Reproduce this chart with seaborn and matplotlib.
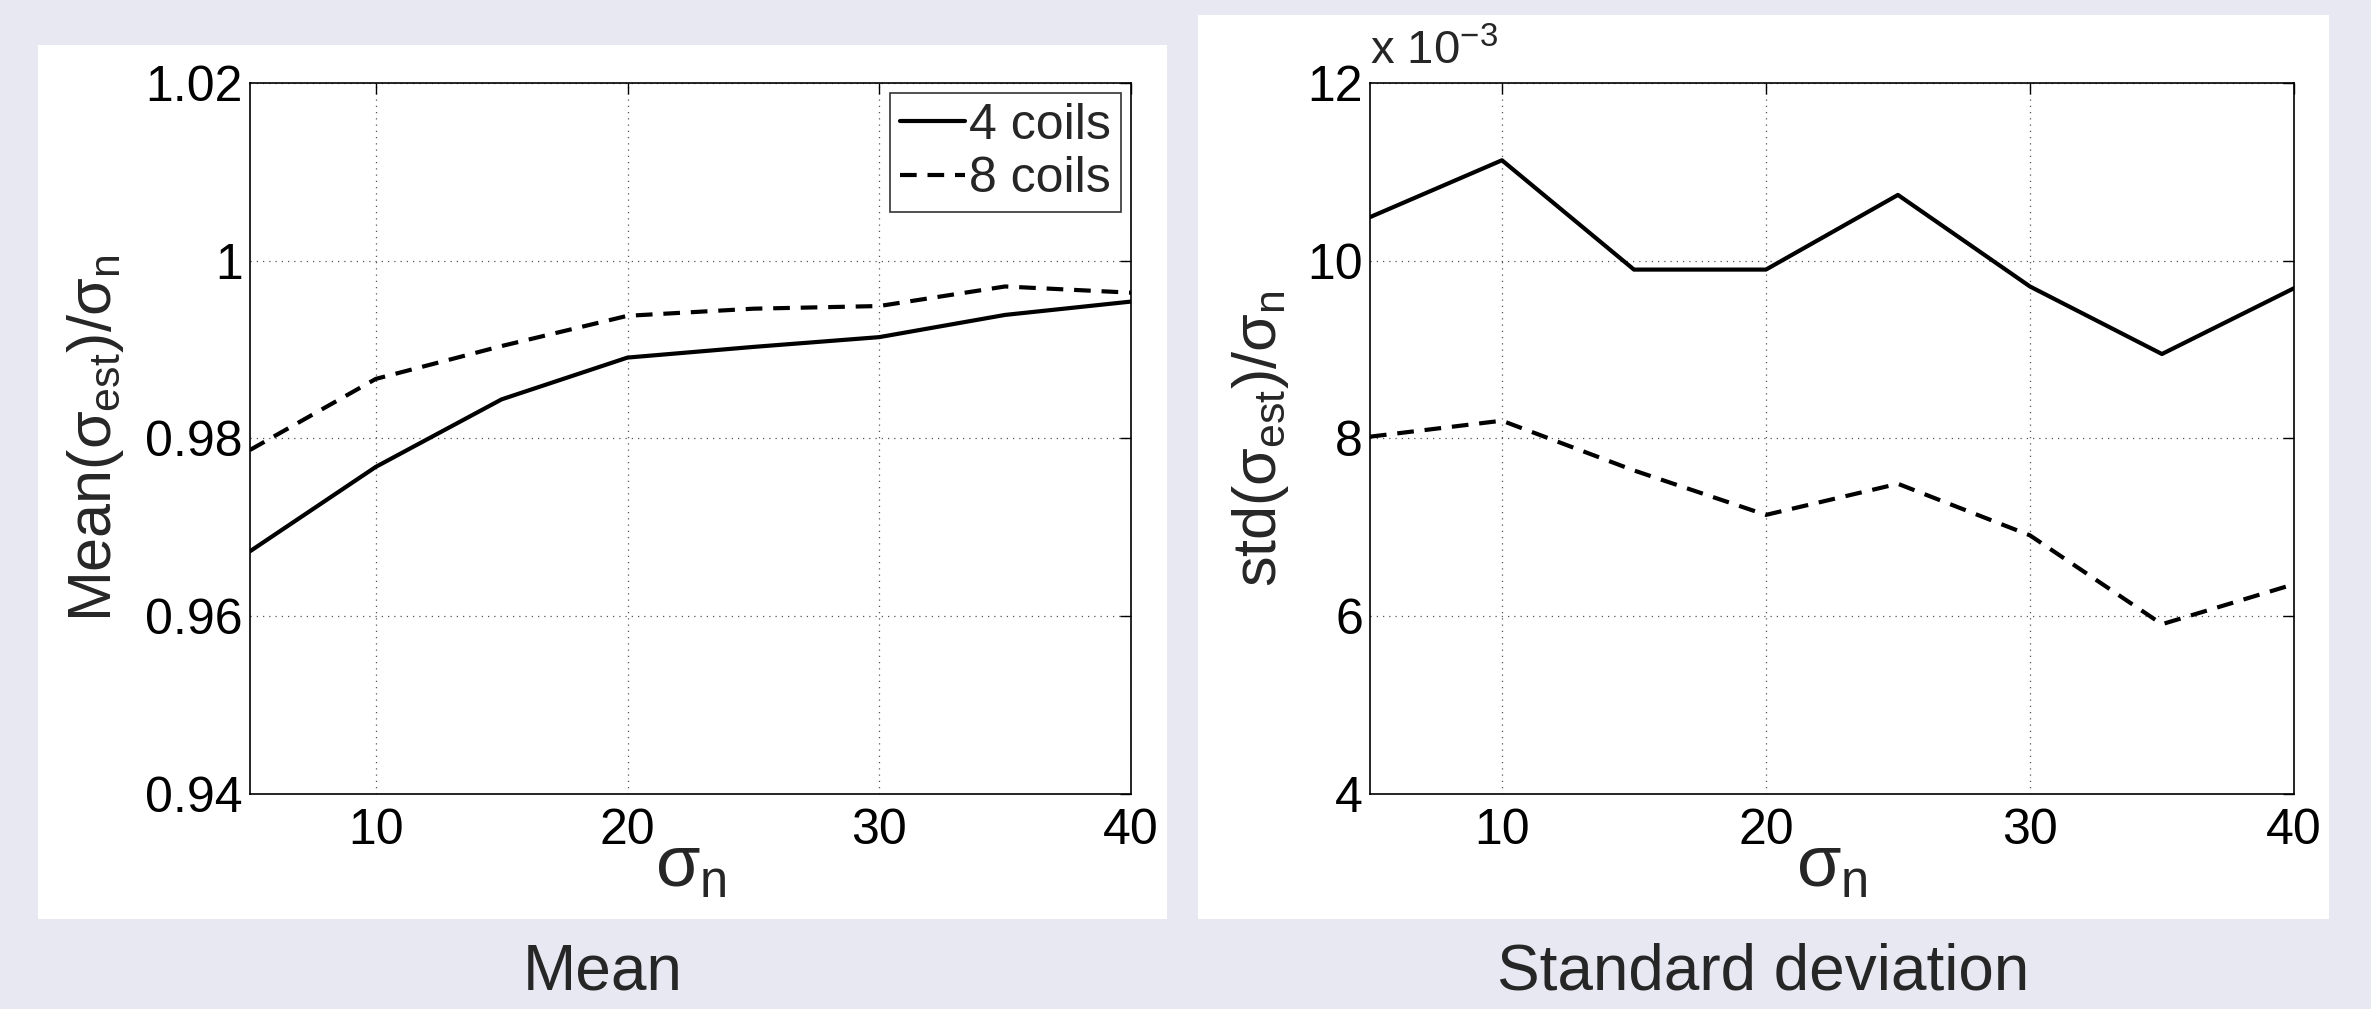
import numpy as np
import pandas as pd
import matplotlib
matplotlib.use("Agg")
import matplotlib.pyplot as plt
from matplotlib.patches import Rectangle
from matplotlib.ticker import FuncFormatter
import seaborn as sns

# данные
sigma_n = [5, 10, 15, 20, 25, 30, 35, 40]
mean_4 = [0.9673, 0.9768, 0.9844, 0.9891, 0.9903, 0.9914, 0.9939, 0.9954]
mean_8 = [0.9787, 0.9867, 0.9904, 0.9938, 0.9946, 0.9949, 0.9971, 0.9964]
std_4 = [10.49, 11.13, 9.90, 9.90, 10.74, 9.71, 8.95, 9.69]  # x 1e-3
std_8 = [8.02, 8.20, 7.64, 7.14, 7.49, 6.91, 5.91, 6.36]     # x 1e-3
series = ["4 coils", "8 coils"]

df = pd.DataFrame({
    "sigma_n": sigma_n * 2,
    "mean": mean_4 + mean_8,
    "std": [v * 1e-3 for v in std_4 + std_8],
    "coils": [series[0]] * len(sigma_n) + [series[1]] * len(sigma_n),
})

sns.set_style("white")
plt.rcParams["font.family"] = ["Liberation Sans", "DejaVu Sans"]
plt.rcParams["mathtext.fontset"] = "custom"
plt.rcParams["mathtext.rm"] = "Liberation Sans"
plt.rcParams["mathtext.it"] = "Liberation Sans"
plt.rcParams["mathtext.sf"] = "Liberation Sans"

bg = "#e8e8f2"
fig = plt.figure(figsize=(23.71, 10.09), dpi=100, facecolor=bg)

# белые подложки под графиками
fig.add_artist(Rectangle((0.016, 0.089), 0.476, 0.866, transform=fig.transFigure,
                         facecolor="white", edgecolor="none", zorder=0))
fig.add_artist(Rectangle((0.5053, 0.089), 0.477, 0.896, transform=fig.transFigure,
                         facecolor="white", edgecolor="none", zorder=0))

ax1 = fig.add_axes([0.1054, 0.2131, 0.3716, 0.7047])
ax2 = fig.add_axes([0.5778, 0.2131, 0.3897, 0.7047])

lw = 3.0
dashes = {series[0]: "", series[1]: (4, 2.6)}
fs = 36

sns.lineplot(data=df, x="sigma_n", y="mean", style="coils", dashes=dashes,
             color="black", linewidth=lw, ax=ax1)
sns.lineplot(data=df, x="sigma_n", y="std", style="coils", dashes=dashes,
             color="black", linewidth=lw, ax=ax2, legend=False)

for ax in (ax1, ax2):
    ax.set_facecolor("white")
    ax.set_xlim(5, 40)
    ax.set_xticks([10, 20, 30, 40])
    ax.grid(True, linestyle=(0, (1, 4)), color="#555555", linewidth=0.9)
    ax.tick_params(direction="in", length=8, width=1, top=True, right=True,
                   labelsize=fs, colors="black")
    ax.tick_params(axis="x", pad=10)
    ax.tick_params(axis="y", pad=5)
    for s in ax.spines.values():
        s.set_color("black")
        s.set_linewidth(1.2)
    ax.set_xlabel(r"$\sigma_{n}$", fontsize=52, labelpad=-14)

ax1.set_ylim(0.94, 1.02)
ax1.set_yticks([0.94, 0.96, 0.98, 1.0, 1.02])
ax1.set_yticklabels(["0.94", "0.96", "0.98", "1", "1.02"])
ax1.set_ylabel(r"Mean($\sigma_{est}$)/$\sigma_n$", fontsize=44, labelpad=14)

ax2.set_ylim(4e-3, 12e-3)
ax2.set_yticks([4e-3, 6e-3, 8e-3, 10e-3, 12e-3])
ax2.yaxis.set_major_formatter(FuncFormatter(lambda v, p: f"{v * 1e3:.0f}"))
ax2.set_ylabel(r"std($\sigma_{est}$)/$\sigma_n$", fontsize=44, labelpad=12)
ax2.text(0.0, 1.012, r"x 10$^{-3}$", transform=ax2.transAxes, fontsize=34,
         ha="left", va="bottom")

leg = ax1.legend(loc="upper right", fontsize=fs, frameon=True, fancybox=False,
                 handlelength=1.3, handletextpad=0.08, borderpad=0.2,
                 labelspacing=0.15, borderaxespad=0.2)
leg.get_frame().set_edgecolor("black")
leg.get_frame().set_linewidth(1.2)
leg.set_title(None)
for h in leg.get_lines():
    h.set_linewidth(lw)

fig.text(0.254, 0.036, "Mean", fontsize=46, ha="center", va="center")
fig.text(0.7436, 0.036, "Standard deviation", fontsize=46, ha="center", va="center")

fig.savefig("out.png", dpi=100, facecolor=bg)
